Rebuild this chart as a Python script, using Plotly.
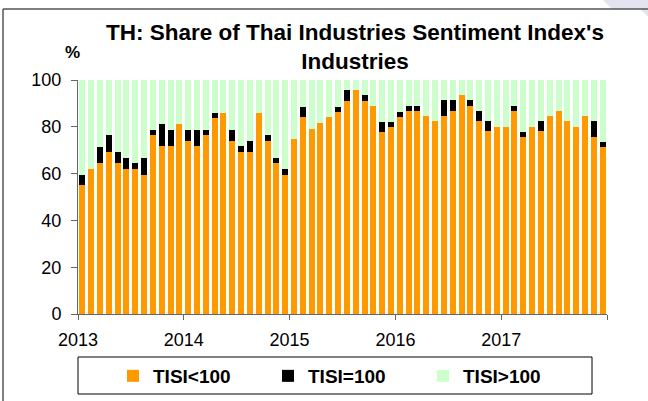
import plotly.graph_objects as go

# Monthly data, Jan 2013 - Dec 2017 (% share of industries)
months = list(range(60))
tisi_below = [55.0, 62.0, 64.4, 69.3, 64.4, 62.0, 62.0, 59.4, 76.3, 71.6, 71.6, 81.1,
              74.0, 71.6, 76.3, 83.6, 86.0, 74.0, 69.3, 69.3, 86.0, 74.0, 64.4, 59.6,
              74.6, 84.0, 79.1, 81.6, 84.0, 86.3, 91.0, 95.7, 91.1, 88.9, 77.6, 79.9,
              84.3, 86.6, 86.9, 84.6, 82.3, 84.6, 86.9, 93.6, 89.1, 82.4, 78.0, 80.0,
              80.0, 86.9, 75.7, 80.0, 78.0, 84.6, 86.9, 82.4, 80.0, 84.6, 75.7, 71.3]
tisi_equal = [4.5, 0.0, 7.0, 7.0, 5.0, 4.7, 2.4, 7.3, 2.4, 9.5, 7.0, 0.0,
              4.7, 7.0, 2.4, 2.4, 0.0, 4.7, 2.3, 4.7, 0.0, 2.4, 2.3, 2.4,
              0.0, 4.6, 0.0, 0.0, 0.0, 2.3, 4.6, 0.0, 2.3, 0.0, 4.4, 2.1,
              2.1, 2.3, 2.1, 0.0, 0.0, 6.8, 4.5, 0.0, 2.3, 4.5, 4.4, 0.0,
              0.0, 2.2, 2.2, 0.0, 4.4, 0.0, 0.0, 0.0, 0.0, 0.0, 6.7, 2.3]
tisi_above = [round(100 - a - b, 1) for a, b in zip(tisi_below, tisi_equal)]

year_tick_pos = [-0.5, 11.5, 23.5, 35.5, 47.5, 59.5]
year_labels = ["2013", "2014", "2015", "2016", "2017", ""]

FONT = "Liberation Sans, Arial, sans-serif"

# plot area in pixels
L, R, T, B = 78, 607, 80, 314


def px(xp):
    return (xp - L) / (R - L)


def py(yp):
    return (B - yp) / (B - T)


fig = go.Figure()
fig.add_trace(go.Bar(x=months, y=tisi_below, name="TISI<100",
                     marker=dict(color="#FF9900", line=dict(width=0))))
fig.add_trace(go.Bar(x=months, y=tisi_equal, name="TISI=100",
                     marker=dict(color="#000000", line=dict(width=0))))
fig.add_trace(go.Bar(x=months, y=tisi_above, name="TISI>100",
                     marker=dict(color="#CCFFCC", line=dict(width=0))))

shapes = [
    # outer frame (left and top)
    dict(type="line", xref="paper", yref="paper", x0=px(3), x1=px(3), y0=py(420), y1=py(9),
         line=dict(color="#555555", width=1.5)),
    dict(type="line", xref="paper", yref="paper", x0=px(3), x1=px(660), y0=py(9), y1=py(9),
         line=dict(color="#555555", width=1.5)),
    # decoration top right
    dict(type="path", xref="paper", yref="paper",
         path=f"M {px(603)},{py(0)} L {px(660)},{py(0)} L {px(660)},{py(28)} L {px(640)},{py(9)} L {px(612)},{py(9)} Z",
         fillcolor="#e4e4f0", line=dict(width=0), layer="below"),
    # legend box
    dict(type="rect", xref="paper", yref="paper", x0=px(78), x1=px(592), y0=py(394), y1=py(357),
         line=dict(color="#000000", width=1), fillcolor="rgba(0,0,0,0)"),
]

fig.update_layout(
    width=648, height=401,
    margin=dict(l=L, r=648 - R, t=T, b=401 - B, pad=0, autoexpand=False),
    paper_bgcolor="white", plot_bgcolor="white",
    barmode="stack", bargap=0.32,
    font=dict(family=FONT, color="#000000", size=17),
    title=dict(text="TH: Share of Thai Industries Sentiment Index's<br>Industries",
               x=355 / 648, xanchor="center", xref="container",
               y=1 - 40 / 401, yanchor="top", yref="container",
               font=dict(family=FONT, size=22.5, color="#000000", weight="bold")),
    xaxis=dict(range=[-0.5, 59.5], tickmode="array", tickvals=year_tick_pos, ticktext=year_labels,
               ticks="outside", ticklen=5, tickcolor="#666666", showline=True, linecolor="#666666",
               linewidth=1, showgrid=False, zeroline=False, tickfont=dict(size=18),
               ticklabelstandoff=4),
    yaxis=dict(range=[0, 100], dtick=20, ticks="outside", ticklen=6, tickcolor="#666666",
               showline=True, linecolor="#666666", linewidth=1, showgrid=False, zeroline=False,
               tickfont=dict(size=18), ticklabelstandoff=6),
    legend=dict(orientation="h", x=px(113), xanchor="left", y=py(376), yanchor="middle",
                entrywidth=110, entrywidthmode="pixels", itemwidth=30,
                font=dict(family=FONT, size=19, color="#000000", weight="bold"),
                bgcolor="rgba(0,0,0,0)", borderwidth=0, traceorder="normal"),
    shapes=shapes,
    annotations=[dict(text="<b>%</b>", xref="paper", yref="paper", x=px(72), y=py(52),
                      xanchor="center", yanchor="middle", showarrow=False,
                      font=dict(family=FONT, size=17, color="#000000"))],
)

fig.write_html("out.html", config={"displayModeBar": False},
               post_script="document.body.style.margin='0px';")
